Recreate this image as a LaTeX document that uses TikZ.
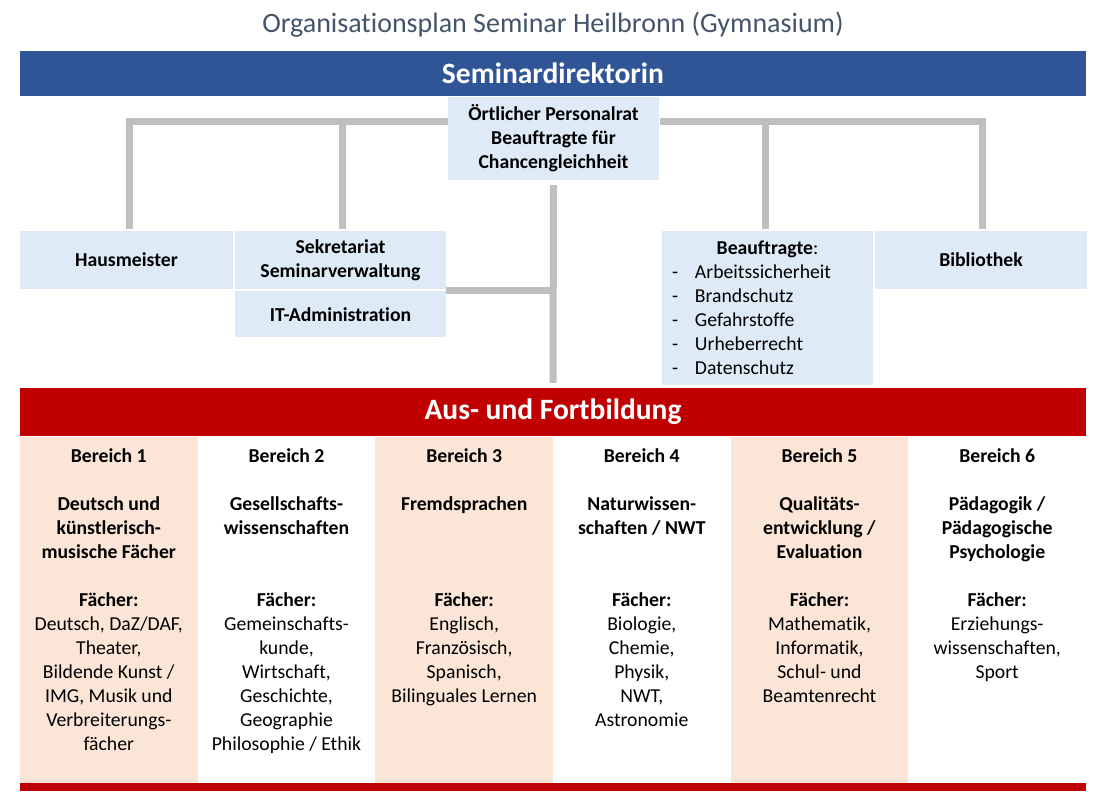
\documentclass[tikz,border=0pt]{standalone}
\usepackage{fontspec}
\setmainfont{Carlito}[Ligatures=NoCommon]
\usetikzlibrary{positioning}
\definecolor{dirblue}{HTML}{2F5597}
\definecolor{boxblue}{HTML}{DEEBF7}
\definecolor{fbred}{HTML}{C00000}
\definecolor{peach}{HTML}{FBE5D6}
\definecolor{linegray}{HTML}{BFBFBF}
\definecolor{titlegray}{HTML}{44546A}

\begin{document}
\fontsize{19.7}{24}\selectfont
\begin{tikzpicture}[x=1pt,y=-1pt,
		box/.style={fill=boxblue, inner sep=0pt, align=center, font=\bfseries},
		bar/.style={minimum width=1066, inner sep=0pt, text=white, font=\fontsize{29.5}{36}\selectfont\bfseries},
		conn/.style={draw=linegray, line width=7pt},
		fach/.style={anchor=north, align=center, inner sep=0pt}]
		\useasboundingbox (0,0) rectangle (1106,806);
		\node[anchor=base, text=titlegray, font=\fontsize{28}{34}\selectfont] (title) at (553,32) {Organisationsplan Seminar Heilbronn (Gymnasium)};
		\node[bar, fill=dirblue, minimum height=45] (direkt) at (553,73.5) {Seminardirektorin};
		% obere Ebene
		\node[box, minimum width=211, minimum height=83] (persr) at (553.5,138.5) {Örtlicher Personalrat\\Beauftragte für\\Chancengleichheit};
		\node[box, minimum width=213, minimum height=58] (hausm) at (126.5,260) {Hausmeister};
		\node[box, minimum width=211, minimum height=58] (sekr) at (340.5,260) {Sekretariat\\Seminarverwaltung};
		\node[box, minimum width=211, minimum height=46] (itadm) [below=2pt of sekr] {IT-Administration};
		\node[box, font={}, align=left, text width=191, inner xsep=10pt, minimum width=211, minimum height=154] (beauf) at (767.5,308)
			{\makebox[191pt]{\textbf{Beauftragte}:}\\
			\makebox[23pt][l]{-}Arbeitssicherheit\\
			\makebox[23pt][l]{-}Brandschutz\\
			\makebox[23pt][l]{-}Gefahrstoffe\\
			\makebox[23pt][l]{-}Urheberrecht\\
			\makebox[23pt][l]{-}Datenschutz};
		\node[box, minimum width=212, minimum height=58] (bibl) at (981,260) {Bibliothek};
		\coordinate (busL) at (448,121);
		\coordinate (busR) at (660,121);
		\draw[conn, shorten <=2pt] ([xshift=3pt]hausm.north) |- (busL);
		\draw[conn, shorten <=2pt] ([xshift=1.5pt]sekr.north) -- ([xshift=1.5pt]sekr.north |- busL);
		\draw[conn, shorten <=2pt] ([xshift=-2.5pt]beauf.north) -- ([xshift=-2.5pt]beauf.north |- busR);
		\draw[conn, shorten <=2pt] ([xshift=1pt]bibl.north) |- (busR);
		% Aus- und Fortbildung
		\node[bar, fill=fbred, minimum height=48] (ausfort) at (553,412) {Aus- und Fortbildung};
		\draw[conn] ([yshift=-5pt]persr.south) -- ([yshift=5pt]ausfort.north);
		\draw[conn] ([yshift=1pt]itadm.north east) -- ([yshift=1pt]itadm.north east -| persr.south);
		\foreach \i in {0,2,4}
			\fill[peach] ({20+\i*177.667},437) rectangle ({20+(\i+1)*177.667},783);
		\fill[fbred] (20,783) rectangle (1086,791);
		\node[fach] (ber1) at (108.8,448) {\textbf{Bereich 1}\\\mbox{}\\\textbf{Deutsch und}\\\textbf{künstlerisch-}\\\textbf{musische Fächer}\\\mbox{}\\\textbf{Fächer:}\\Deutsch, DaZ/DAF,\\Theater,\\Bildende Kunst /\\IMG, Musik und\\Verbreiterungs-\\fächer};
		\node[fach] (ber2) at (286.5,448) {\textbf{Bereich 2}\\\mbox{}\\\textbf{Gesellschafts-}\\\textbf{wissenschaften}\\\mbox{}\\\mbox{}\\\textbf{Fächer:}\\Gemeinschafts-\\kunde,\\Wirtschaft,\\Geschichte,\\Geographie\\Philosophie / Ethik};
		\node[fach] (ber3) at (464.2,448) {\textbf{Bereich 3}\\\mbox{}\\\textbf{Fremdsprachen}\\\mbox{}\\\mbox{}\\\mbox{}\\\textbf{Fächer:}\\Englisch,\\Französisch,\\Spanisch,\\Bilinguales Lernen};
		\node[fach] (ber4) at (641.8,448) {\textbf{Bereich 4}\\\mbox{}\\\textbf{Naturwissen-}\\\textbf{schaften / NWT}\\\mbox{}\\\mbox{}\\\textbf{Fächer:}\\Biologie,\\Chemie,\\Physik,\\NWT,\\Astronomie};
		\node[fach] (ber5) at (819.5,448) {\textbf{Bereich 5}\\\mbox{}\\\textbf{Qualitäts-}\\\textbf{entwicklung /}\\\textbf{Evaluation}\\\mbox{}\\\textbf{Fächer:}\\Mathematik,\\Informatik,\\Schul- und\\Beamtenrecht};
		\node[fach] (ber6) at (997.2,448) {\textbf{Bereich 6}\\\mbox{}\\\textbf{Pädagogik /}\\\textbf{Pädagogische}\\\textbf{Psychologie}\\\mbox{}\\\textbf{Fächer:}\\Erziehungs-\\wissenschaften,\\Sport};
	\end{tikzpicture}
\end{document}
